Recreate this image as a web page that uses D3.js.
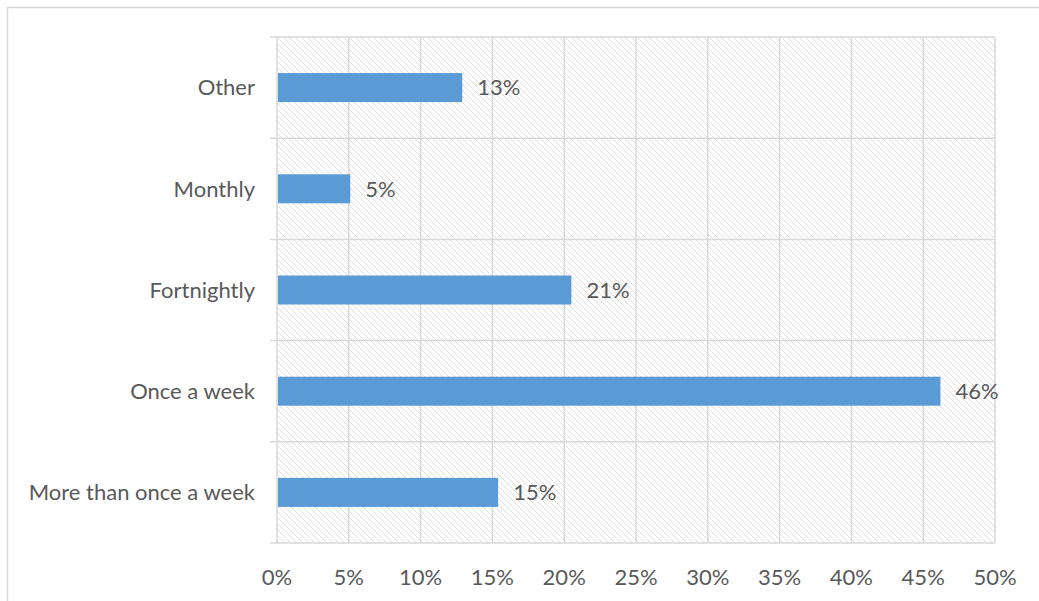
<!DOCTYPE html>
<html><head><meta charset="utf-8">
<script src="https://cdn.jsdelivr.net/npm/d3@7"></script>
<style>body{margin:0;background:#fff}svg{display:block}</style>
</head><body>
<svg id="c" width="1039" height="601"></svg>
<script>
const categories = ["Other", "Monthly", "Fortnightly", "Once a week", "More than once a week"];
const values = [0.129, 0.051, 0.205, 0.462, 0.154];
const valueLabels = ["13%", "5%", "21%", "46%", "15%"];
const xTicks = [0, 0.05, 0.10, 0.15, 0.20, 0.25, 0.30, 0.35, 0.40, 0.45, 0.50];

const svg = d3.select("#c");
const font = "Lato, 'Open Sans', sans-serif";
const fs = 22;
const textColor = "#595959";
const gridColor = "#d9d9d9";

// outer chart border
svg.append("rect").attr("x", 7.5).attr("y", 7.5).attr("width", 1100).attr("height", 700)
  .attr("fill", "#fff").attr("stroke", gridColor).attr("stroke-width", 1.5);

const L = 277, R = 995, T = 37, B = 543;
const x = d3.scaleLinear().domain([0, 0.5]).range([L, R]);
const y = d3.scaleBand().domain(categories).range([T, B]).paddingInner(0).paddingOuter(0);

// hatch pattern
const defs = svg.append("defs");
const pat = defs.append("pattern").attr("id", "hatch").attr("patternUnits", "userSpaceOnUse")
  .attr("width", 6).attr("height", 6);
pat.append("path").attr("d", "M-1,-1 L7,7 M-1,5 L1,7 M5,-1 L7,1")
  .attr("stroke", "#dadada").attr("stroke-width", 0.9).attr("fill", "none");

svg.append("rect").attr("x", L).attr("y", T).attr("width", R - L).attr("height", B - T)
  .attr("fill", "url(#hatch)");

// vertical gridlines
svg.append("g").selectAll("line").data(xTicks).join("line")
  .attr("x1", d => x(d)).attr("x2", d => x(d)).attr("y1", T).attr("y2", B)
  .attr("stroke", gridColor).attr("stroke-width", 1.5);

// horizontal gridlines at band boundaries (with small left ticks)
const bounds = categories.map(c => y(c)).concat([B]);
svg.append("g").selectAll("line").data(bounds).join("line")
  .attr("x1", L - 7).attr("x2", R).attr("y1", d => d).attr("y2", d => d)
  .attr("stroke", gridColor).attr("stroke-width", 1.5);

// bars
const barH = 29;
svg.append("g").selectAll("rect").data(categories).join("rect")
  .attr("x", x(0) + 1)
  .attr("y", c => y(c) + y.bandwidth() / 2 - barH / 2)
  .attr("width", (c, i) => x(values[i]) - x(0) - 1)
  .attr("height", barH)
  .attr("fill", "#5b9bd5");

// value labels
svg.append("g").selectAll("text").data(categories).join("text")
  .attr("x", (c, i) => x(values[i]) + 15)
  .attr("y", c => y(c) + y.bandwidth() / 2)
  .attr("dy", "0.35em")
  .attr("font-family", font).attr("font-size", fs).attr("fill", textColor)
  .text((c, i) => valueLabels[i]);

// category labels
svg.append("g").selectAll("text").data(categories).join("text")
  .attr("x", L - 22)
  .attr("y", c => y(c) + y.bandwidth() / 2)
  .attr("dy", "0.35em").attr("text-anchor", "end")
  .attr("font-family", font).attr("font-size", fs).attr("fill", textColor)
  .text(c => c);

// x tick labels
svg.append("g").selectAll("text").data(xTicks).join("text")
  .attr("x", d => x(d)).attr("y", 577).attr("dy", "0.35em").attr("text-anchor", "middle")
  .attr("font-family", font).attr("font-size", fs).attr("fill", textColor)
  .text(d => d3.format(".0%")(d));
</script>
</body></html>
